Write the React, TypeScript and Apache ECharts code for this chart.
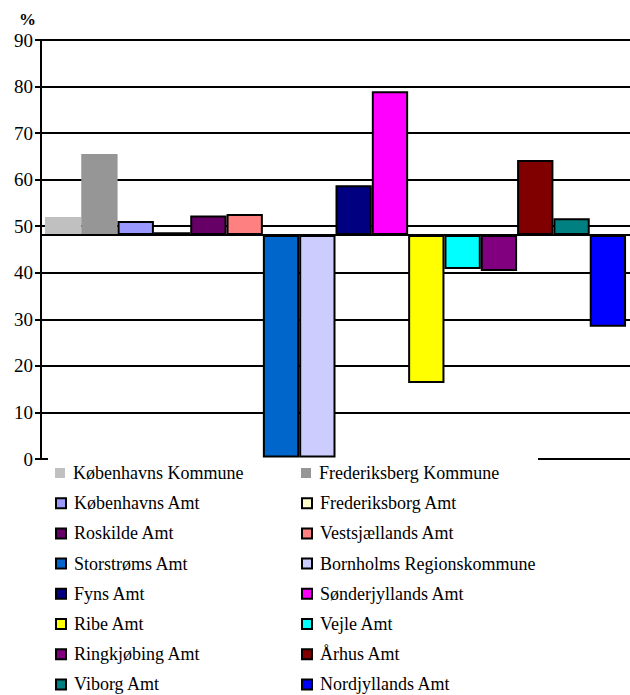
import React, { useEffect, useRef } from "react";
import * as echarts from "echarts";

const names = [
  "Københavns Kommune",
  "Frederiksberg Kommune",
  "Københavns Amt",
  "Frederiksborg Amt",
  "Roskilde Amt",
  "Vestsjællands Amt",
  "Storstrøms Amt",
  "Bornholms Regionskommune",
  "Fyns Amt",
  "Sønderjyllands Amt",
  "Ribe Amt",
  "Vejle Amt",
  "Ringkjøbing Amt",
  "Århus Amt",
  "Viborg Amt",
  "Nordjyllands Amt",
];
const values = [52.0, 65.5, 51.1, 48.7, 52.3, 52.6, 0.3, 0.3, 58.8, 79.0, 16.3, 40.8, 40.4, 64.2, 51.7, 28.4];
const colors = [
  "#C0C0C0", "#969696", "#9999FF", "#FFFFCC", "#660066", "#FF8080", "#0066CC", "#CCCCFF",
  "#000080", "#FF00FF", "#FFFF00", "#00FFFF", "#800080", "#800000", "#008080", "#0000FF",
];
const bordered = [false, false, true, true, true, true, true, true, true, true, true, true, true, true, true, true];
const baseline = 48.1;
const yTicks = [0, 10, 20, 30, 40, 50, 60, 70, 80, 90];

const FONT = "'Liberation Serif', 'Times New Roman', serif";

export default function App() {
  const ref = useRef<HTMLDivElement>(null);
  useEffect(() => {
    document.body.style.margin = "0";
    const chart = echarts.init(ref.current!, null, { renderer: "svg" });
    const series: any[] = [];
    names.forEach((n, i) => {
      const v = values[i];
      series.push({
        type: "bar",
        name: "_base" + i,
        stack: "s" + i,
        data: [Math.min(v, baseline)],
        itemStyle: { color: "transparent" },
        silent: true,
        barGap: "0%",
        barCategoryGap: "1.34%",
      });
      const s: any = {
        type: "bar",
        name: n,
        stack: "s" + i,
        data: [Math.abs(v - baseline)],
        itemStyle: {
          color: colors[i],
          borderColor: bordered[i] ? "#000" : colors[i],
          borderWidth: bordered[i] ? 2 : 0,
        },
        barGap: "0%",
        barCategoryGap: "1.34%",
      };
      if (i === names.length - 1) {
        s.markLine = {
          silent: true,
          symbol: "none",
          label: { show: false },
          lineStyle: { color: "#000", width: 2, type: "solid" },
          data: [{ yAxis: baseline }],
        };
      }
      series.push(s);
    });
    const legends = names.map((n, i) => ({
      orient: "horizontal",
      left: i % 2 === 0 ? 55 : 301,
      top: 464 + Math.floor(i / 2) * 30.2,
      itemWidth: 10,
      itemHeight: 10,
      padding: 0,
      icon: "rect",
      data: [n],
      textStyle: { fontFamily: FONT, fontSize: 18, color: "#000", padding: [0, 0, 0, 3] },
    }));
    chart.setOption({
      animation: false,
      title: {
        text: "%",
        left: 14,
        top: 6,
        textStyle: { fontFamily: FONT, fontSize: 17, fontWeight: "bold", color: "#000" },
      },
      grid: { left: 41, top: 40, width: 596, height: 419 },
      xAxis: {
        type: "category",
        data: [""],
        axisLine: { show: false },
        axisTick: { show: false },
        axisLabel: { show: false },
      },
      yAxis: {
        type: "value",
        min: yTicks[0],
        max: yTicks[yTicks.length - 1],
        interval: 10,
        axisLine: { show: true, lineStyle: { color: "#000", width: 2 } },
        axisTick: { show: true, length: 6, lineStyle: { color: "#000", width: 2 } },
        axisLabel: { fontFamily: FONT, fontSize: 19, color: "#000", margin: 8 },
        splitLine: { show: true, lineStyle: { color: "#000", width: 2 } },
      },
      legend: legends,
      graphic: [
        {
          type: "rect",
          left: 48,
          top: 458,
          z: 3,
          shape: { width: 490, height: 240 },
          style: { fill: "#fff" },
        },
      ],
      series,
    });
    return () => chart.dispose();
  }, []);
  return <div ref={ref} style={{ width: 630, height: 695 }} />;
}
